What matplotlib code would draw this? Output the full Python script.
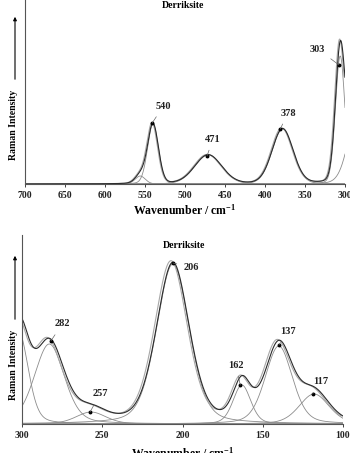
import numpy as np
import matplotlib
matplotlib.use("Agg")
import matplotlib.pyplot as plt

plt.rcParams['font.family'] = ['Liberation Serif', 'DejaVu Serif']
plt.rcParams['font.weight'] = 'bold'
plt.rcParams['mathtext.fontset'] = 'custom'
plt.rcParams['mathtext.rm'] = 'Liberation Serif:bold'
plt.rcParams['mathtext.it'] = 'Liberation Serif:bold'
plt.rcParams['mathtext.bf'] = 'Liberation Serif:bold'

# ---------------- data ----------------
title = "Derriksite"
ylabel = "Raman Intensity"
xlabel = r"Wavenumber / cm$^{-1}$"

# upper panel: 700-300 cm-1 ; band centres, heights, FWHM
top_centres = [556, 540, 471, 378, 306, 282]
top_heights = [8, 60, 29, 55, 128, 80]
top_fwhm = [15, 16, 40, 31, 14, 30]
top_ticks = [700, 650, 600, 550, 500, 450, 400, 350, 300]
top_labels = ["540", "471", "378", "303"]
top_label_pts = [(541, 61), (472.5, 28), (381, 55), (307.5, 119)]
top_label_txt = [(527, 78), (465, 45), (371, 71), (334, 135)]

# lower panel: 300-100 cm-1
bot_centres = [302, 283, 257, 206, 163, 140, 118]
bot_heights = [92, 80, 12, 160, 39, 78, 30]
bot_fwhm = [14, 22, 22, 24, 13, 20, 22]
bot_ticks = [300, 250, 200, 150, 100]
bot_labels = ["282", "257", "206", "162", "137", "117"]
bot_label_pts = [(282, 83), (257.6, 12), (206, 161), (164, 39), (140, 79), (119, 30)]
bot_label_txt = [(275, 100), (251.4, 30), (194.5, 157), (166.7, 59), (134, 92), (114, 42)]


def band(x, c, h, w, eta):
    g = np.exp(-4 * np.log(2) * ((x - c) / w) ** 2)
    l = 1.0 / (1.0 + ((x - c) / (w / 2)) ** 2)
    return h * ((1 - eta) * g + eta * l)


W, H = 350, 453
fig = plt.figure(figsize=(3.5, 4.53), dpi=100)

dark = '#2b2b2b'
grey = '#8c8c8c'
light = '#a8a8a8'


def draw_panel(ax, x, centres, heights, fwhm, eta, xlim, ymax, ticks,
               labels, pts, txts):
    comps = [band(x, c, h, w, eta) for c, h, w in zip(centres, heights, fwhm)]
    total = np.sum(comps, axis=0)
    for cp in comps:
        ax.plot(x, cp, color=grey, lw=0.6)
    ax.plot(x + 1.2, total * 1.01, color=light, lw=0.8)
    ax.plot(x, total, color=dark, lw=0.8)
    ax.set_xlim(*xlim)
    ax.set_ylim(0, ymax)
    ax.set_xticks(ticks)
    ax.set_xticklabels([str(t) for t in ticks])
    ax.set_yticks([])
    for s in ['top', 'right']:
        ax.spines[s].set_visible(False)
    for s in ['left', 'bottom']:
        ax.spines[s].set_color('#555555')
        ax.spines[s].set_linewidth(0.8)
    ax.tick_params(axis='x', length=2, width=0.6, pad=3, labelsize=7,
                   colors='#222222', direction='out')
    for lab, p, t in zip(labels, pts, txts):
        ax.annotate(lab, xy=p, xytext=t, fontsize=7.5, fontweight='bold',
                    ha='center', va='center', color='#222222',
                    arrowprops=dict(arrowstyle='-', color='#666666', lw=0.5,
                                    shrinkA=3, shrinkB=0))
        ax.plot([p[0]], [p[1]], 'o', color='black', ms=1.8)


# top panel
ax1 = fig.add_axes([25 / W, 1 - 184 / H, 320 / W, 184 / H])
x1 = np.linspace(700, 300, 1200)
draw_panel(ax1, x1, top_centres, top_heights, top_fwhm, 0.12, (700, 300), 184,
           top_ticks, top_labels, top_label_pts, top_label_txt)
ax1.set_xlabel(xlabel, fontsize=8.5, fontweight='bold', labelpad=2)

# bottom panel
ax2 = fig.add_axes([22 / W, 1 - 424 / H, 321 / W, 189 / H])
x2 = np.linspace(300, 100, 1200)
draw_panel(ax2, x2, bot_centres, bot_heights, bot_fwhm, 0.3, (300, 100), 189,
           bot_ticks, bot_labels, bot_label_pts, bot_label_txt)
ax2.set_xlabel(xlabel, fontsize=8.5, fontweight='bold', labelpad=4)

# titles
fig.text(183 / W, 1 - 6 / H, title, ha='center', va='center', fontsize=7,
         fontweight='bold')
fig.text(184 / W, 1 - 246 / H, title, ha='center', va='center', fontsize=7,
         fontweight='bold')

# y labels with arrows
for yc, ya0, ya1 in [(125, 82, 14), (365, 322, 253)]:
    fig.text(14 / W, 1 - yc / H, ylabel, rotation=90, ha='center',
             va='center', fontsize=7, fontweight='bold')
    fig.add_artist(matplotlib.patches.FancyArrowPatch(
        (15 / W, 1 - ya0 / H), (15 / W, 1 - ya1 / H),
        transform=fig.transFigure, arrowstyle='-|>', mutation_scale=5,
        color='black', lw=0.8))

fig.savefig('out.png', dpi=100)
